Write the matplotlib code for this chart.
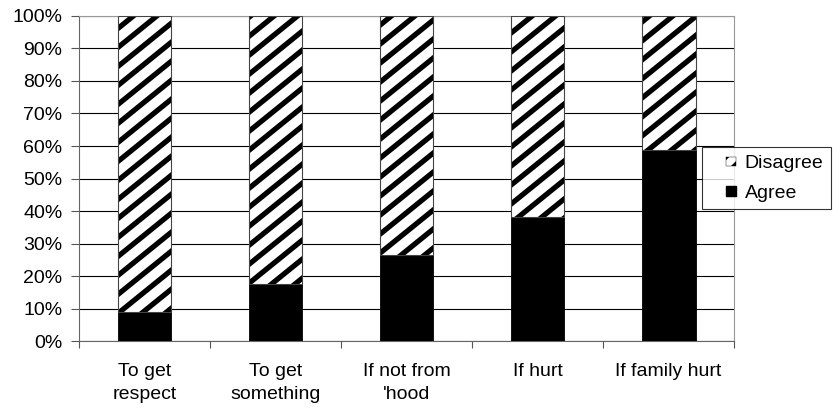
#!/usr/bin/env python3

import numpy as np
import matplotlib
matplotlib.use("Agg")
import matplotlib.pyplot as plt
from matplotlib.patches import Patch, Rectangle
from matplotlib.legend_handler import HandlerPatch

categories = ["To get\nrespect", "To get\nsomething", "If not from\n'hood", "If hurt", "If family hurt"]
agree = [9.0, 17.7, 26.5, 38.3, 58.8]
disagree = [100 - a for a in agree]
yticks = np.arange(0, 101, 10)

def small_square(legend, orig_handle, xdescent, ydescent, width, height, fontsize):
    sq = 7
    return Rectangle((-xdescent + width - sq, -ydescent + (height - sq) / 2), sq, sq)

def stripe(ax, rect, period=19.0, slope=0.81, lw=3.8):
    # diagonal stripes drawn in pixel space, clipped to the bar
    inv = ax.transData.inverted()
    (X0, Y0) = ax.transData.transform((rect.get_x(), rect.get_y()))
    (X1, Y1) = ax.transData.transform((rect.get_x() + rect.get_width(),
                                       rect.get_y() + rect.get_height()))
    cmin = np.floor((Y0 - slope * X1) / period) * period
    cmax = Y1 - slope * X0 + period
    for c in np.arange(cmin, cmax, period):
        pts = inv.transform([(X0 - 5, slope * (X0 - 5) + c), (X1 + 5, slope * (X1 + 5) + c)])
        ln, = ax.plot(pts[:, 0], pts[:, 1], color='black', lw=lw,
                      solid_capstyle='butt', zorder=3.5)
        ln.set_clip_path(rect)

def main():
    plt.rcParams['font.family'] = ['Liberation Sans', 'DejaVu Sans']
    plt.rcParams['font.size'] = 14
    plt.rcParams['hatch.linewidth'] = 3.0
    plt.rcParams['hatch.color'] = 'black'

    fig = plt.figure(figsize=(8.4, 4.09), dpi=100)
    ax = fig.add_axes([0.094, 0.166, 0.780, 0.795])

    x = np.arange(len(categories))
    w = 0.41
    ax.set_xlim(-0.5, len(categories) - 0.5)
    ax.set_ylim(0, 100)

    ax.bar(x, agree, w, color='black', edgecolor='black', linewidth=0.6, zorder=3)
    top = ax.bar(x, disagree, w, bottom=agree, color='white', edgecolor='#444444',
                 linewidth=0.8, zorder=4)
    for r in top:
        r.set_facecolor('none')
        bg = Rectangle((r.get_x(), r.get_y()), r.get_width(), r.get_height(),
                       facecolor='white', edgecolor='none', zorder=3)
        ax.add_patch(bg)
        stripe(ax, bg)

    ax.set_yticks(yticks)
    ax.set_yticklabels([f"{v}%" for v in yticks])
    ax.set_xticks(x)
    ax.set_xticklabels(categories, linespacing=1.4)
    ax.set_xticks(np.arange(-0.5, len(categories), 1), minor=True)
    ax.tick_params(axis='x', which='major', length=0, pad=16)
    ax.tick_params(axis='x', which='minor', length=5, width=0.8, color='#555555')
    ax.tick_params(axis='y', length=6, width=0.8, pad=6, color='#555555')

    ax.yaxis.grid(True, color='black', linewidth=0.8, zorder=1)
    ax.set_axisbelow(True)
    for s in ['top', 'right']:
        ax.spines[s].set_color('#999999')
        ax.spines[s].set_linewidth(0.8)
    for s in ['left', 'bottom']:
        ax.spines[s].set_color('#666666')
        ax.spines[s].set_linewidth(0.8)

    handles = [Patch(facecolor='white', edgecolor='black', hatch='//', linewidth=0.3, label='Disagree'),
               Patch(facecolor='black', edgecolor='black', label='Agree')]
    leg = fig.legend(handles=handles, loc='upper left', bbox_to_anchor=(0.8357, 0.6406),
                     fontsize=14, frameon=True, fancybox=False, handlelength=1.35,
                     handletextpad=0.45, borderpad=0.4, labelspacing=0.6,
                     borderaxespad=0, handler_map={Patch: HandlerPatch(patch_func=small_square)})
    leg.get_frame().set_edgecolor('black')
    leg.get_frame().set_linewidth(0.8)

    fig.savefig("out.png", dpi=100)

if __name__ == "__main__":
    main()
